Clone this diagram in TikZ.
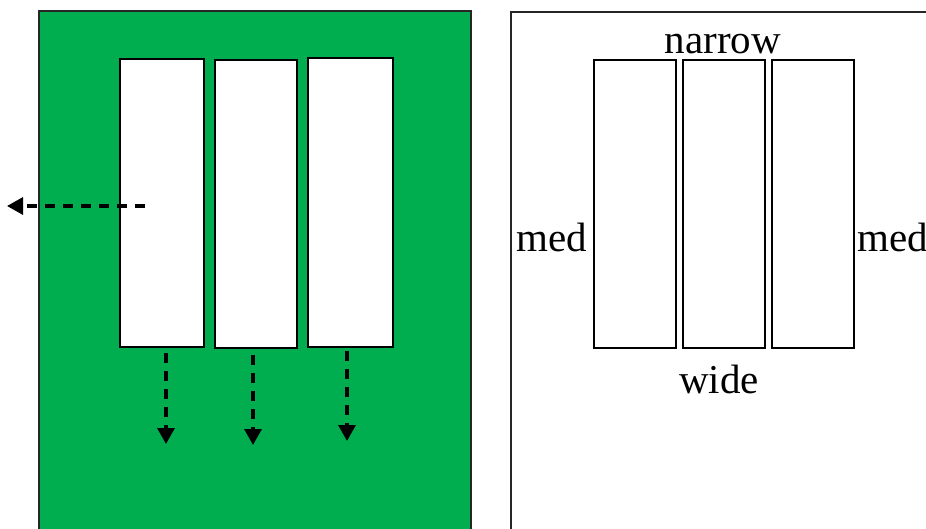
\documentclass[tikz,border=0pt]{standalone}
\usepackage{fontspec}
\setmainfont{Liberation Serif}
\usetikzlibrary{arrows.meta}
\definecolor{panelgreen}{HTML}{00AE4F}
\tikzset{
  panel/.style={draw=black!85, line width=1.5pt},
  slot/.style={draw=black, line width=1.6pt, fill=white, inner sep=0pt, outer sep=0pt},
  flow/.style={line width=3.2pt, dash pattern=on 10pt off 8pt, -{Triangle[length=16pt,width=17pt]}},
  lbl/.style={font=\fontsize{41}{41}\selectfont, inner sep=0pt, anchor=base}
}
\begin{document}
\begin{tikzpicture}[x=1pt,y=-1pt]
\useasboundingbox (0,0) rectangle (926,528);
\clip (0,0) rectangle (926,528);
\fill[white] (0,0) rectangle (926,528);
% left panel
\draw[panel, fill=panelgreen] (39,11) rectangle (471,560);
\node[slot, minimum width=84pt, minimum height=288pt] (a1) at (162,203) {};
\node[slot, minimum width=82pt, minimum height=288pt] (a2) at (256,204) {};
\node[slot, minimum width=85pt, minimum height=289pt] (a3) at (350.5,202.5) {};
\coordinate (h0) at (145,206);
\coordinate (h1) at (7,206);
\coordinate (d1s) at (166,353);
\coordinate (d1e) at (166,444);
\coordinate (d2s) at (253,355);
\coordinate (d2e) at (253,445);
\coordinate (d3s) at (347,351);
\coordinate (d3e) at (347,441);
\draw[flow] (h0) -- (h1);
\draw[flow] (d1s) -- (d1e);
\draw[flow] (d2s) -- (d2e);
\draw[flow] (d3s) -- (d3e);
% right panel
\draw[panel] (511,12) rectangle (960,560);
\node[slot, minimum width=82pt, minimum height=288pt] (b1) at (635,204) {};
\node[slot, minimum width=82pt, minimum height=288pt] (b2) at (724,204) {};
\node[slot, minimum width=82pt, minimum height=288pt] (b3) at (813,204) {};
\begin{scope}
\clip (600,0) rectangle (850,53);
\node[lbl] (narrow) at (723,53) {narrow};
\end{scope}
\node[lbl] (medl) at (552,251) {med};
\node[lbl, anchor=base west] (medr) at (857,251) {med};
\node[lbl] (wide) at (719,393) {wide};
\end{tikzpicture}
\end{document}
